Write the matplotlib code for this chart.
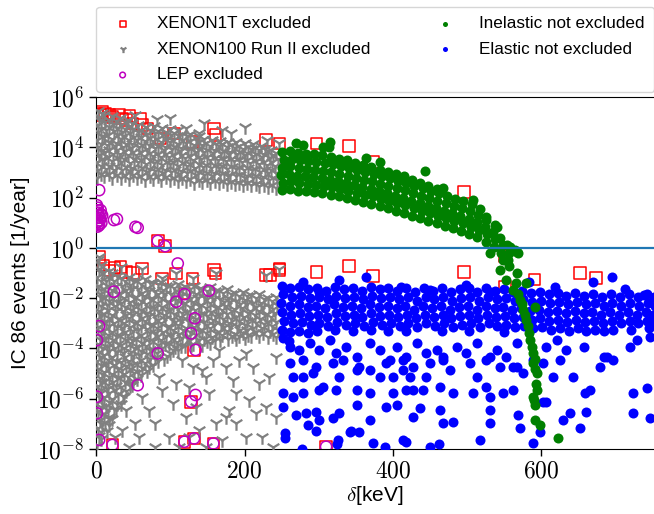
import matplotlib
matplotlib.use("Agg")
import matplotlib.pyplot as plt
import numpy as np
from matplotlib.ticker import FixedLocator, FuncFormatter, NullLocator

plt.rcParams['font.family'] = ['Liberation Sans', 'DejaVu Sans']
plt.rcParams['mathtext.fontset'] = 'cm'

# every point is (delta [keV], log10 of IC 86 events per year)

# XENON100 Run II excluded, upper band
xenon100_upper = [
    (1, 2.8), (3, 3.1), (1, 3.4), (4, 3.7), (2, 4.0), (1, 4.3), (3, 4.6), (2, 4.9), (4, 5.2), (2, 5.45),
    (11, 2.85), (13, 3.15), (10, 3.5), (12, 3.8), (14, 4.1), (11, 4.4), (13, 4.7), (12, 5.0), (10, 5.3),
    (22, 2.8), (24, 3.12), (21, 3.45), (23, 3.75), (25, 4.05), (22, 4.35), (24, 4.65), (23, 4.95), (21, 5.25),
    (33, 2.78), (35, 3.1), (34, 3.42), (32, 3.72), (36, 4.02), (33, 4.32), (35, 4.62), (34, 4.9), (32, 5.18),
    (44, 2.75), (46, 3.05), (45, 3.38), (43, 3.68), (47, 3.98), (44, 4.28), (46, 4.58), (45, 4.85), (43, 5.1),
    (55, 2.78), (57, 3.08), (56, 3.4), (54, 3.7), (58, 4.0), (55, 4.3), (57, 4.6), (56, 4.88), (53, 5.28),
    (66, 2.72), (68, 3.02), (67, 3.34), (65, 3.64), (69, 3.94), (66, 4.24), (68, 4.54), (67, 4.82),
    (77, 2.75), (79, 3.06), (78, 3.36), (76, 3.66), (80, 3.96), (77, 4.26), (79, 4.56), (78, 4.84), (82, 5.15),
    (88, 2.7), (90, 3.0), (89, 3.3), (87, 3.6), (91, 3.9), (88, 4.2), (90, 4.5), (89, 4.78),
    (99, 2.72), (101, 3.02), (100, 3.32), (98, 3.62), (102, 3.92), (99, 4.22), (101, 4.5), (100, 4.74), (99, 5.16),
    (110, 2.65), (112, 2.95), (111, 3.25), (109, 3.55), (113, 3.85), (110, 4.15), (112, 4.44), (111, 4.68),
    (121, 2.68), (123, 2.98), (122, 3.28), (120, 3.58), (124, 3.88), (121, 4.18), (123, 4.46), (121, 4.78),
    (132, 2.6), (134, 2.9), (133, 3.2), (131, 3.5), (135, 3.8), (132, 4.1), (134, 4.38), (139, 4.56),
    (143, 2.62), (145, 2.92), (144, 3.22), (142, 3.52), (146, 3.82), (143, 4.1), (145, 4.34), (146, 4.96),
    (154, 2.58), (156, 2.88), (155, 3.18), (153, 3.48), (157, 3.78), (154, 4.05), (156, 4.3),
    (165, 2.6), (167, 2.9), (166, 3.2), (164, 3.5), (168, 3.78), (165, 4.05), (167, 4.26), (170, 4.7),
    (176, 2.55), (178, 2.85), (177, 3.15), (175, 3.45), (179, 3.74), (176, 4.0), (178, 4.22), (182, 4.56),
    (187, 2.55), (189, 2.85), (188, 3.14), (186, 3.44), (190, 3.72), (187, 3.98), (189, 4.2),
    (198, 2.5), (200, 2.8), (199, 3.1), (197, 3.4), (201, 3.68), (198, 3.95), (200, 4.16), (200, 4.8),
    (209, 2.5), (211, 2.8), (210, 3.1), (208, 3.38), (212, 3.66), (209, 3.92), (211, 4.12),
    (220, 2.45), (222, 2.75), (221, 3.04), (219, 3.34), (223, 3.62), (220, 3.88), (222, 4.06),
    (231, 2.42), (233, 2.72), (232, 3.0), (230, 3.3), (234, 3.58), (231, 3.84), (230, 4.29),
    (242, 2.4), (244, 2.7), (243, 2.98), (241, 3.26), (245, 3.52), (242, 3.78), (247, 4.17),
]

# XENON100 Run II excluded, upper band, points between the ones above
xenon100_upper_fill = [
    (7, 2.95), (6, 3.25), (8, 3.55), (7, 3.85), (6, 4.15), (8, 4.45), (7, 4.75), (6, 5.05), (8, 5.35),
    (17, 2.95), (18, 3.28), (16, 3.6), (17, 3.9), (18, 4.2), (16, 4.5), (17, 4.8), (18, 5.1),
    (28, 2.92), (27, 3.25), (29, 3.58), (28, 3.88), (27, 4.18), (29, 4.48), (28, 4.78), (27, 5.05),
    (39, 2.9), (40, 3.22), (38, 3.55), (39, 3.85), (40, 4.15), (38, 4.45), (39, 4.75), (40, 5.0),
    (50, 2.9), (49, 3.2), (51, 3.52), (50, 3.82), (49, 4.12), (51, 4.42), (50, 4.72), (49, 4.98),
    (61, 2.88), (62, 3.18), (60, 3.5), (61, 3.8), (62, 4.1), (60, 4.4), (61, 4.7),
    (72, 2.86), (71, 3.16), (73, 3.48), (72, 3.78), (71, 4.08), (73, 4.38), (72, 4.68),
    (83, 2.85), (84, 3.15), (82, 3.45), (83, 3.75), (84, 4.05), (82, 4.35), (83, 4.65),
    (94, 2.82), (93, 3.12), (95, 3.42), (94, 3.72), (93, 4.02), (95, 4.32), (94, 4.62),
    (105, 2.8), (106, 3.1), (104, 3.4), (105, 3.7), (106, 4.0), (104, 4.3), (105, 4.58),
    (116, 2.78), (115, 3.08), (117, 3.38), (116, 3.68), (115, 3.98), (117, 4.28), (116, 4.55),
    (127, 2.75), (128, 3.05), (126, 3.35), (127, 3.65), (128, 3.95), (126, 4.25), (127, 4.52),
    (138, 2.72), (137, 3.02), (139, 3.32), (138, 3.62), (137, 3.92), (139, 4.22), (138, 4.45),
    (149, 2.7), (150, 3.0), (148, 3.3), (149, 3.6), (150, 3.9), (148, 4.18),
    (160, 2.68), (159, 2.98), (161, 3.28), (160, 3.58), (159, 3.88), (161, 4.15),
    (171, 2.65), (172, 2.95), (170, 3.25), (171, 3.55), (172, 3.85), (170, 4.12),
    (182, 2.62), (181, 2.92), (183, 3.22), (182, 3.52), (181, 3.82), (183, 4.08),
    (193, 2.6), (194, 2.9), (192, 3.2), (193, 3.5), (194, 3.8), (192, 4.05),
    (204, 2.58), (203, 2.88), (205, 3.18), (204, 3.48), (203, 3.78), (205, 4.0),
    (215, 2.55), (216, 2.85), (214, 3.15), (215, 3.45), (216, 3.75), (214, 3.98),
    (226, 2.52), (225, 2.82), (227, 3.12), (226, 3.42), (225, 3.72), (227, 3.95),
    (237, 2.5), (238, 2.8), (236, 3.1), (237, 3.4), (238, 3.68), (236, 3.9),
]

# XENON100 Run II excluded, lower dense region
xenon100_lower = [
    (2, -0.5), (4, -0.83), (1, -1.16), (3, -1.5), (5, -1.83), (2, -2.16), (4, -2.5), (1, -2.83), (3, -3.16),
    (5, -3.5), (2, -3.83), (4, -4.16), (1, -4.5), (3, -4.83), (5, -5.16), (2, -5.5), (4, -5.83), (1, -6.16),
    (3, -6.5), (5, -6.83), (2, -7.16), (4, -7.5), (1, -7.83),
    (11, -0.95), (13, -1.3), (10, -1.62), (12, -1.95), (14, -2.28), (11, -2.62), (13, -2.95), (10, -3.28),
    (12, -3.62), (14, -3.95), (11, -4.28), (13, -4.62), (10, -4.95), (12, -5.28), (14, -5.62), (11, -5.95),
    (13, -6.28), (10, -6.62), (12, -6.95), (14, -7.3),
    (22, -1.0), (24, -1.33), (21, -1.66), (23, -2.0), (25, -2.33), (22, -2.66), (24, -3.0), (21, -3.33),
    (23, -3.66), (25, -4.0), (22, -4.33), (24, -4.66), (21, -5.0), (23, -5.33), (25, -5.66), (22, -6.0),
    (24, -6.4), (22, -6.8),
    (33, -1.2), (35, -1.52), (32, -1.85), (34, -2.18), (36, -2.52), (33, -2.85), (35, -3.18), (32, -3.52),
    (34, -3.85), (36, -4.18), (33, -4.52), (35, -4.85), (32, -5.18), (34, -5.52), (36, -5.9), (33, -6.2),
    (44, -1.15), (46, -1.48), (43, -1.8), (45, -2.14), (47, -2.48), (44, -2.8), (46, -3.14), (43, -3.48),
    (45, -3.8), (47, -4.14), (44, -4.48), (46, -4.8), (43, -5.14), (45, -5.5),
    (55, -1.3), (57, -1.62), (54, -1.95), (56, -2.28), (58, -2.62), (55, -2.95), (57, -3.28), (54, -3.62),
    (56, -3.95), (58, -4.28), (55, -4.62), (57, -4.95), (55, -5.2),
    (66, -1.25), (68, -1.58), (65, -1.9), (67, -2.24), (69, -2.58), (66, -2.9), (68, -3.24), (65, -3.58),
    (67, -3.9), (69, -4.24), (66, -4.58), (68, -4.9),
    (77, -1.4), (79, -1.72), (76, -2.05), (78, -2.38), (80, -2.72), (77, -3.05), (79, -3.38), (76, -3.72),
    (78, -4.05), (80, -4.38), (77, -4.65),
    (88, -1.35), (90, -1.68), (87, -2.0), (89, -2.34), (91, -2.68), (88, -3.0), (90, -3.34), (87, -3.68),
    (89, -4.0), (91, -4.4),
    (99, -1.5), (101, -1.82), (98, -2.15), (100, -2.48), (102, -2.82), (99, -3.15), (101, -3.48), (98, -3.82), (100, -4.2),
    (110, -1.42), (112, -1.75), (109, -2.08), (111, -2.42), (113, -2.75), (110, -3.08), (112, -3.42), (109, -3.75), (111, -4.05),
    (121, -1.55), (123, -1.88), (120, -2.2), (122, -2.54), (124, -2.88), (121, -3.2), (123, -3.54), (120, -3.9),
    (132, -1.5), (134, -1.82), (131, -2.15), (133, -2.48), (135, -2.82), (132, -3.15), (134, -3.48), (131, -3.82),
    (143, -1.62), (145, -1.95), (142, -2.28), (144, -2.62), (146, -2.95), (143, -3.28), (145, -3.62), (143, -3.85),
    (154, -1.55), (156, -1.88), (153, -2.2), (155, -2.54), (157, -2.88), (154, -3.2), (156, -3.54), (154, -3.78),
    (165, -1.7), (167, -2.02), (164, -2.35), (166, -2.68), (168, -3.02), (165, -3.35), (167, -3.68),
    (176, -1.65), (178, -1.98), (175, -2.3), (177, -2.64), (179, -2.98), (176, -3.3), (178, -3.64),
    (187, -1.78), (189, -2.1), (186, -2.42), (188, -2.76), (190, -3.1), (187, -3.42), (189, -3.62),
    (198, -1.75), (200, -2.08), (197, -2.4), (199, -2.74), (201, -3.08), (198, -3.4), (200, -3.6),
    (209, -1.88), (211, -2.2), (208, -2.52), (210, -2.86), (212, -3.2), (209, -3.52),
    (220, -1.85), (222, -2.18), (219, -2.5), (221, -2.84), (223, -3.18), (220, -3.52),
    (231, -1.98), (233, -2.3), (230, -2.62), (232, -2.96), (234, -3.3), (231, -3.56),
    (242, -1.95), (244, -2.28), (241, -2.6), (243, -2.94), (245, -3.28), (242, -3.55),
    (4, -0.35), (33, -0.75), (62, -0.82), (89, -1.21), (108, -1.01), (130, -1.21), (161, -1.01), (229, -1.08), (247, -0.82),
]

# XENON100 Run II excluded, lower region, points between the ones above
xenon100_lower_fill = [
    (7, -0.67), (8, -1.0), (6, -1.33), (7, -1.66), (8, -2.0), (6, -2.33), (7, -2.66), (8, -3.0), (6, -3.33),
    (7, -3.66), (8, -4.0), (6, -4.33), (7, -4.66), (8, -5.0), (6, -5.33), (7, -5.66), (8, -6.0), (6, -6.33),
    (7, -6.66), (8, -7.0), (6, -7.33), (7, -7.6),
    (17, -0.9), (18, -1.2), (16, -1.5), (17, -1.8), (18, -2.12), (16, -2.45), (17, -2.78), (18, -3.12),
    (16, -3.45), (17, -3.78), (18, -4.12), (16, -4.45), (17, -4.78), (18, -5.12), (16, -5.45), (17, -5.78),
    (18, -6.12), (16, -6.45), (17, -6.8), (18, -7.05),
    (28, -1.1), (27, -1.5), (29, -1.83), (28, -2.16), (27, -2.5), (29, -2.83), (28, -3.16), (27, -3.5),
    (29, -3.83), (28, -4.16), (27, -4.5), (29, -4.83), (28, -5.16), (27, -5.5), (29, -5.83), (28, -6.2), (27, -6.45),
    (39, -1.3), (40, -1.68), (38, -2.0), (39, -2.35), (40, -2.68), (38, -3.0), (39, -3.35), (40, -3.68),
    (38, -4.0), (39, -4.35), (40, -4.68), (38, -5.0), (39, -5.35), (40, -5.7), (38, -5.95),
    (50, -1.3), (49, -1.65), (51, -1.98), (50, -2.3), (49, -2.65), (51, -2.98), (50, -3.3), (49, -3.65),
    (51, -3.98), (50, -4.3), (49, -4.65), (51, -4.98), (50, -5.3), (49, -5.45),
    (61, -1.42), (62, -1.78), (60, -2.1), (61, -2.45), (62, -2.78), (60, -3.1), (61, -3.45), (62, -3.78),
    (60, -4.1), (61, -4.45), (62, -4.78), (60, -5.05),
    (72, -1.4), (71, -1.72), (73, -2.05), (72, -2.4), (71, -2.72), (73, -3.05), (72, -3.4), (71, -3.72),
    (73, -4.05), (72, -4.4), (71, -4.72),
    (83, -1.45), (84, -1.85), (82, -2.18), (83, -2.52), (84, -2.85), (82, -3.18), (83, -3.52), (84, -3.85),
    (82, -4.18), (83, -4.5),
    (94, -1.5), (93, -1.82), (95, -2.15), (94, -2.5), (93, -2.82), (95, -3.15), (94, -3.5), (93, -3.82), (95, -4.3),
    (105, -1.6), (106, -1.95), (104, -2.28), (105, -2.62), (106, -2.95), (104, -3.28), (105, -3.62), (106, -3.95),
    (116, -1.58), (115, -1.9), (117, -2.25), (116, -2.58), (115, -2.9), (117, -3.25), (116, -3.58), (115, -3.92),
    (127, -1.65), (128, -2.0), (126, -2.35), (127, -2.68), (128, -3.0), (126, -3.35), (127, -3.68), (128, -3.85),
    (138, -1.65), (137, -1.98), (139, -2.32), (138, -2.65), (137, -2.98), (139, -3.32), (138, -3.65),
    (149, -1.72), (150, -2.05), (148, -2.38), (149, -2.72), (150, -3.05), (148, -3.38), (149, -3.7),
    (160, -1.72), (159, -2.05), (161, -2.38), (160, -2.72), (159, -3.05), (161, -3.38), (160, -3.68),
    (171, -1.8), (172, -2.15), (170, -2.48), (171, -2.82), (172, -3.15), (170, -3.48),
    (182, -1.82), (181, -2.15), (183, -2.5), (182, -2.82), (181, -3.15), (183, -3.5),
    (193, -1.9), (194, -2.25), (192, -2.58), (193, -2.9), (194, -3.25), (192, -3.52),
    (204, -1.92), (203, -2.25), (205, -2.6), (204, -2.92), (203, -3.25), (205, -3.48),
    (215, -2.0), (216, -2.35), (214, -2.68), (215, -3.0), (216, -3.35),
    (226, -2.02), (225, -2.35), (227, -2.68), (226, -3.02), (225, -3.38),
    (237, -2.1), (238, -2.42), (236, -2.75), (237, -3.1), (238, -3.42),
]

# XENON100 Run II excluded, sparse tail
xenon100_tail = [
    (103, -4.06), (116, -4.46), (130, -4.73), (148, -5.12), (157, -4.46), (166, -4.06), (175, -4.73),
    (184, -5.26), (193, -4.46), (202, -4.2), (211, -4.73), (220, -5.39), (233, -5.12), (242, -4.33),
    (206, -6.05), (179, -6.45), (152, -5.79), (134, -6.32), (121, -6.72), (103, -6.19), (89, -5.66),
    (80, -6.98), (71, -6.45), (58, -7.51), (98, -7.51), (125, -7.51), (139, -7.25), (161, -6.98),
    (175, -6.72), (188, -6.98), (215, -6.58), (229, -6.32), (242, -6.72), (62, -5.92), (49, -5.39),
    (40, -6.45), (35, -7.25), (53, -6.98), (85, -5.12), (107, -5.39), (125, -5.52), (143, -4.86),
    (188, -5.79), (202, -7.51), (224, -7.51), (238, -7.91), (170, -7.64), (148, -7.91), (112, -7.91),
    (80, -7.91), (17, -6.72), (26, -7.51), (44, -7.91),
]

# XENON1T excluded
xenon1t = [
    (2, 5.35), (8, 5.42), (17, 5.28), (31, 5.28), (35, 5.15), (49, 4.95), (60, 5.15), (62, 4.89),
    (69, 4.75), (87, 4.36), (105, 4.55), (130, 4.22), (159, 4.75), (161, 4.49), (229, 4.29), (247, 4.16),
    (5, 5.3), (12, 5.35), (22, 5.2), (40, 5.1), (45, 5.25),
    (297, 4.16), (341, 4.05), (373, 3.43), (496, 2.23), (551, -0.32),
    (234, -1.08), (247, -0.88), (297, -0.95), (341, -0.72), (373, -1.12), (496, -0.97), (551, -1.54),
    (591, -1.25), (652, -0.99), (674, -1.19), (310, -7.91),
    (4, -0.35), (33, -0.75), (62, -0.82), (89, -1.21), (108, -1.01), (130, -1.21), (161, -1.01),
    (229, -1.08), (247, -0.82), (119, -1.81), (132, -4.06), (128, -6.12), (119, -7.71), (132, -7.58),
    (158, -7.78), (22, -7.84), (10, -0.7), (18, -0.9), (25, -0.8), (40, -0.95), (50, -1.0),
    (83, 0.28), (93, 0.07), (159, -0.88),
]

# LEP excluded
lep = [
    (4, 2.3), (2, 1.6), (3, 1.4), (5, 1.2), (1, 1.0), (6, 1.5), (4, 0.9), (8, 1.3), (24, 1.11), (28, 1.15),
    (1, 1.7), (2, 1.5), (3, 1.3), (1, 1.2), (2, 1.05), (3, 0.95), (5, 1.1), (6, 1.35), (2, 0.85), (7, 1.0),
    (53, 0.84), (56, 0.8), (83, 0.28), (93, 0.07), (110, -0.62),
    (24, -1.74), (108, -2.14), (119, -1.84), (152, -1.7), (133, -2.8), (128, -3.4), (134, -4.06),
    (83, -4.2), (56, -5.46), (134, -5.85), (128, -6.12), (4, -3.11), (1, -3.67), (1, -5.92), (1, -6.58),
    (4, -7.64), (22, -7.84), (119, -7.71), (132, -7.58), (158, -7.78), (310, -7.91),
]

# Inelastic not excluded
inelastic = [
    (250, 2.3), (252, 2.6), (249, 2.9), (251, 3.2), (253, 3.5), (250, 3.8),
    (261, 2.35), (263, 2.65), (260, 2.95), (262, 3.25), (264, 3.55), (261, 3.85),
    (272, 2.28), (274, 2.58), (271, 2.88), (273, 3.18), (275, 3.48), (272, 3.78), (270, 4.16),
    (283, 2.25), (285, 2.55), (282, 2.85), (284, 3.15), (286, 3.45), (283, 3.75), (279, 4.09),
    (294, 2.22), (296, 2.52), (293, 2.82), (295, 3.12), (297, 3.42), (294, 3.72),
    (305, 2.18), (307, 2.48), (304, 2.78), (306, 3.08), (308, 3.38), (305, 3.68), (306, 4.0),
    (316, 2.12), (318, 2.42), (315, 2.72), (317, 3.02), (319, 3.32), (316, 3.62), (315, 4.22), (314, 4.02),
    (327, 2.05), (329, 2.35), (326, 2.65), (328, 2.95), (330, 3.25), (327, 3.55),
    (338, 1.98), (340, 2.28), (337, 2.58), (339, 2.88), (341, 3.18), (338, 3.48),
    (349, 1.9), (351, 2.2), (348, 2.5), (350, 2.8), (352, 3.1), (349, 3.38),
    (360, 1.82), (362, 2.12), (359, 2.42), (361, 2.72), (363, 3.02), (360, 3.3), (364, 3.56),
    (371, 1.75), (373, 2.05), (370, 2.35), (372, 2.65), (374, 2.95), (371, 3.22),
    (382, 1.65), (384, 1.95), (381, 2.25), (383, 2.55), (385, 2.85), (382, 3.12), (382, 3.43),
    (393, 1.58), (395, 1.88), (392, 2.18), (394, 2.48), (396, 2.78), (393, 3.02),
    (404, 1.48), (406, 1.78), (403, 2.08), (405, 2.38), (407, 2.68), (404, 2.95),
    (415, 1.4), (417, 1.7), (414, 2.0), (416, 2.3), (418, 2.6), (415, 2.85),
    (426, 1.28), (428, 1.58), (425, 1.88), (427, 2.18), (429, 2.48), (426, 2.72),
    (437, 1.18), (439, 1.48), (436, 1.78), (438, 2.08), (440, 2.38), (437, 2.6), (443, 3.07),
    (448, 1.08), (450, 1.38), (447, 1.68), (449, 1.98), (451, 2.28), (448, 2.48),
    (459, 0.98), (461, 1.28), (458, 1.58), (460, 1.88), (462, 2.18), (459, 2.35),
    (470, 0.88), (472, 1.18), (469, 1.48), (471, 1.78), (473, 2.05), (467, 2.37),
    (481, 0.78), (483, 1.08), (480, 1.38), (482, 1.68), (484, 1.95),
    (492, 0.68), (494, 0.98), (491, 1.28), (493, 1.58), (495, 1.85),
    (503, 0.55), (505, 0.85), (502, 1.15), (504, 1.45), (506, 1.75), (508, 1.9),
    (514, 0.42), (516, 0.72), (513, 1.02), (515, 1.32), (517, 1.55),
    (525, 0.25), (527, 0.55), (524, 0.85), (526, 1.1), (526, 1.24),
    (536, 0.05), (538, 0.35), (535, 0.65), (537, 0.9), (540, 0.84),
    (546, -0.2), (548, 0.1), (545, 0.4), (555, -0.5), (557, -0.2), (554, 0.1),
    (558, 0.05), (569, -0.19), (565, -0.1), (531, -0.22), (567, -0.15),
    (549, -0.48), (544, -0.88), (556, -0.7), (567, -1.01), (553, -1.28), (562, -1.68), (580, -1.41),
    (566, -1.4), (571, -2.07), (568, -1.85), (576, -2.47), (574, -2.25), (591, -2.34), (580, -2.87),
    (578, -2.65), (582, -3.1), (583, -3.4), (585, -3.67), (587, -3.95), (589, -4.2), (589, -4.59),
    (591, -4.4), (594, -4.99), (592, -4.8), (594, -5.65), (593, -5.4), (589, -5.92), (591, -6.25),
    (590, -6.05), (591, -6.85), (598, -7.05), (623, -7.55),
]

# Elastic not excluded, main band
elastic_band = [
    (250, -1.5), (252, -1.85), (249, -2.2), (251, -2.55), (253, -2.9), (250, -3.25), (252, -3.6),
    (262, -1.6), (264, -1.95), (261, -2.3), (263, -2.65), (265, -3.0), (262, -3.35), (260, -3.7),
    (274, -1.55), (276, -1.9), (273, -2.25), (275, -2.6), (277, -2.95), (274, -3.3),
    (286, -1.65), (288, -2.0), (285, -2.35), (287, -2.7), (289, -3.05), (286, -3.4),
    (298, -1.6), (300, -1.95), (297, -2.3), (299, -2.65), (301, -3.0), (298, -3.3),
    (310, -1.7), (312, -2.05), (309, -2.4), (311, -2.75), (313, -3.1),
    (322, -1.55), (324, -1.9), (321, -2.25), (323, -2.6), (325, -2.95), (322, -3.25),
    (334, -1.65), (336, -2.0), (333, -2.35), (335, -2.7), (337, -3.05),
    (346, -1.6), (348, -1.95), (345, -2.3), (347, -2.65), (349, -3.0), (346, -3.3),
    (358, -1.7), (360, -2.05), (357, -2.4), (359, -2.75), (361, -3.1),
    (370, -1.55), (372, -1.9), (369, -2.25), (371, -2.6), (373, -2.95), (370, -3.25),
    (382, -1.65), (384, -2.0), (381, -2.35), (383, -2.7), (385, -3.05),
    (394, -1.6), (396, -1.95), (393, -2.3), (395, -2.65), (397, -3.0), (394, -3.3),
    (406, -1.7), (408, -2.05), (405, -2.4), (407, -2.75), (409, -3.1),
    (418, -1.6), (420, -1.95), (417, -2.3), (419, -2.65), (421, -3.0), (418, -3.3),
    (430, -1.75), (432, -2.1), (429, -2.45), (431, -2.8), (433, -3.15),
    (442, -1.6), (444, -1.95), (441, -2.3), (443, -2.65), (445, -3.0),
    (454, -1.7), (456, -2.05), (453, -2.4), (455, -2.75), (457, -3.1),
    (466, -1.6), (468, -1.95), (465, -2.3), (467, -2.65), (469, -3.0), (466, -3.3),
    (478, -1.75), (480, -2.1), (477, -2.45), (479, -2.8), (481, -3.15),
    (490, -1.65), (492, -2.0), (489, -2.35), (491, -2.7), (493, -3.05),
    (502, -1.6), (504, -1.95), (501, -2.3), (503, -2.65), (505, -3.0), (502, -3.3),
    (514, -1.75), (516, -2.1), (513, -2.45), (515, -2.8), (517, -3.15),
    (526, -1.6), (528, -1.95), (525, -2.3), (527, -2.65), (529, -3.0),
    (538, -1.7), (540, -2.05), (537, -2.4), (539, -2.75), (541, -3.1),
    (550, -1.65), (552, -2.0), (549, -2.35), (551, -2.7), (553, -3.05), (550, -3.35),
    (562, -1.75), (564, -2.1), (561, -2.45), (563, -2.8), (565, -3.15),
    (574, -1.7), (576, -2.05), (573, -2.4), (575, -2.75), (577, -3.1),
    (586, -1.8), (588, -2.15), (585, -2.5), (587, -2.85), (589, -3.2),
    (598, -1.75), (600, -2.1), (597, -2.45), (599, -2.8), (601, -3.15),
    (610, -1.85), (612, -2.2), (609, -2.55), (611, -2.9), (613, -3.25),
    (622, -1.8), (624, -2.15), (621, -2.5), (623, -2.85), (625, -3.2),
    (634, -1.9), (636, -2.25), (633, -2.6), (635, -2.95), (637, -3.3),
    (646, -1.8), (648, -2.15), (645, -2.5), (647, -2.85), (649, -3.2),
    (658, -1.9), (660, -2.25), (657, -2.6), (659, -2.95), (661, -3.3),
    (670, -1.85), (672, -2.2), (669, -2.55), (671, -2.9), (673, -3.25),
    (682, -1.95), (684, -2.3), (681, -2.65), (683, -3.0), (685, -3.3),
    (694, -1.85), (696, -2.2), (693, -2.55), (695, -2.9), (697, -3.25),
    (706, -1.95), (708, -2.3), (705, -2.65), (707, -3.0),
    (718, -1.85), (720, -2.2), (717, -2.55), (719, -2.9), (721, -3.25),
    (730, -1.95), (732, -2.3), (729, -2.65), (731, -3.0),
    (742, -1.85), (744, -2.2), (741, -2.55), (743, -2.9), (745, -3.2),
    (752, -1.95), (754, -2.3), (751, -2.65), (753, -3.0),
    (279, -1.35), (328, -1.28), (364, -1.15), (450, -1.68), (499, -1.48), (583, -1.35), (670, -1.35),
    (695, -1.15), (713, -1.65), (738, -1.88), (619, -1.54), (531, -1.74), (411, -1.54), (301, -1.74),
]

# Elastic not excluded, scattered below the band
elastic_scatter = [
    (261, -3.93), (274, -4.06), (288, -3.80), (301, -4.06), (315, -3.67), (324, -4.20), (337, -3.93),
    (351, -4.33), (369, -3.80), (382, -4.06), (396, -4.46), (405, -3.93), (418, -4.33), (432, -3.80),
    (445, -4.20), (459, -4.06), (468, -4.46), (486, -3.93), (499, -4.20), (513, -3.80), (526, -4.46),
    (540, -4.06), (553, -4.33), (567, -3.80), (607, -3.93), (621, -3.67), (634, -4.06), (657, -3.93),
    (684, -4.33), (697, -4.46), (720, -3.93), (729, -3.67), (747, -3.53),
    (261, -4.59), (279, -4.46), (297, -4.73), (319, -4.59), (333, -4.46), (355, -4.73), (369, -4.86),
    (391, -4.59), (414, -4.46), (427, -4.73), (450, -4.59), (468, -4.33), (504, -4.59), (531, -4.33),
    (544, -4.73), (567, -4.73), (589, -4.46), (603, -4.59), (625, -4.46), (688, -4.33),
    (265, -5.12), (279, -5.12), (292, -4.99), (306, -5.52), (328, -5.12), (351, -4.86), (382, -5.12),
    (400, -5.12), (414, -4.86), (423, -5.12), (445, -5.12), (477, -4.86), (513, -5.12), (526, -5.52),
    (562, -4.73), (576, -4.99), (616, -5.12), (643, -5.12), (679, -4.73),
    (252, -5.79), (265, -5.92), (279, -5.79), (301, -5.65), (324, -5.65), (351, -5.65), (369, -5.79),
    (400, -5.79), (418, -5.65), (427, -5.65), (441, -5.65), (463, -5.52), (481, -5.79), (508, -5.79),
    (531, -5.92), (549, -5.79), (562, -5.65), (603, -6.12), (659, -5.79), (666, -5.65), (724, -5.79),
    (742, -5.59),
    (252, -6.32), (270, -6.65), (283, -6.58), (297, -6.52), (301, -6.85), (319, -6.78), (328, -6.58),
    (342, -7.31), (355, -7.31), (351, -6.25), (369, -6.85), (391, -6.32), (405, -6.25), (427, -6.72),
    (436, -6.38), (450, -7.91), (463, -6.45), (481, -6.91), (468, -6.98), (517, -7.64), (531, -6.98),
    (531, -6.45), (569, -6.65), (571, -7.18), (589, -7.78), (598, -7.31), (607, -6.12), (630, -6.85),
    (639, -6.58), (652, -7.18), (661, -6.52), (724, -6.58), (747, -6.78), (254, -7.38), (277, -8.0),
    (326, -7.64), (373, -7.78), (389, -7.91), (414, -7.64), (418, -7.71), (255, -7.56), (285, -7.05),
    (297, -7.3), (325, -7.8), (343, -7.3), (462, -7.8),
]


def xy(points):
    pts = np.array(points, dtype=float)
    return pts[:, 0], 10 ** pts[:, 1]


fig = plt.figure(figsize=(6.54, 5.14), dpi=100)
ax = fig.add_axes([0.147, 0.1265, 0.853, 0.6845])

x, y = xy(xenon1t)
h_1t = ax.scatter(x, y, marker='s', facecolors='none', edgecolors='red', s=70, linewidths=1.1, zorder=2)
x, y = xy(xenon100_upper + xenon100_upper_fill + xenon100_lower + xenon100_lower_fill + xenon100_tail)
h_100 = ax.scatter(x, y, marker='1', color='gray', s=110, linewidths=1.6, zorder=3)
x, y = xy(lep)
h_lep = ax.scatter(x, y, marker='o', facecolors='none', edgecolors='m', s=65, linewidths=1.1, zorder=4)
x, y = xy(elastic_band + elastic_scatter)
h_el = ax.scatter(x, y, marker='o', color='blue', s=52, linewidths=0, zorder=5)
x, y = xy(inelastic)
h_in = ax.scatter(x, y, marker='o', color='green', s=52, linewidths=0, zorder=6)

ax.axhline(1, color='C0', lw=1.6, zorder=7)

ax.set_yscale('log')
ax.set_xlim(0, 752)
ax.set_ylim(1e-8, 1e6)
ax.xaxis.set_major_locator(FixedLocator([0, 200, 400, 600]))
ax.xaxis.set_major_formatter(FuncFormatter(lambda v, p: r'$%d$' % v))
ax.yaxis.set_major_locator(FixedLocator([1e-8, 1e-6, 1e-4, 1e-2, 1e0, 1e2, 1e4, 1e6]))
ax.yaxis.set_minor_locator(NullLocator())
ax.yaxis.set_major_formatter(FuncFormatter(lambda v, p: r'$10^{%d}$' % round(np.log10(v))))
ax.tick_params(labelsize=17, length=5, width=1)
ax.spines['right'].set_visible(False)

ax.set_xlabel(r'$\delta$[keV]', fontsize=15, labelpad=1)
ax.set_ylabel('IC 86 events [1/year]', fontsize=15, labelpad=5)

ax.legend([h_1t, h_100, h_lep, h_in, h_el],
          ['XENON1T excluded', 'XENON100 Run II excluded', 'LEP excluded',
           'Inelastic not excluded', 'Elastic not excluded'],
          ncol=2, loc='lower left', bbox_to_anchor=(0, 1.015, 1, 0.2), mode='expand',
          fontsize=12.3, markerscale=0.5, labelspacing=0.62, borderaxespad=0.0,
          borderpad=0.55, handletextpad=1.0)

fig.savefig('out.png', dpi=100)
